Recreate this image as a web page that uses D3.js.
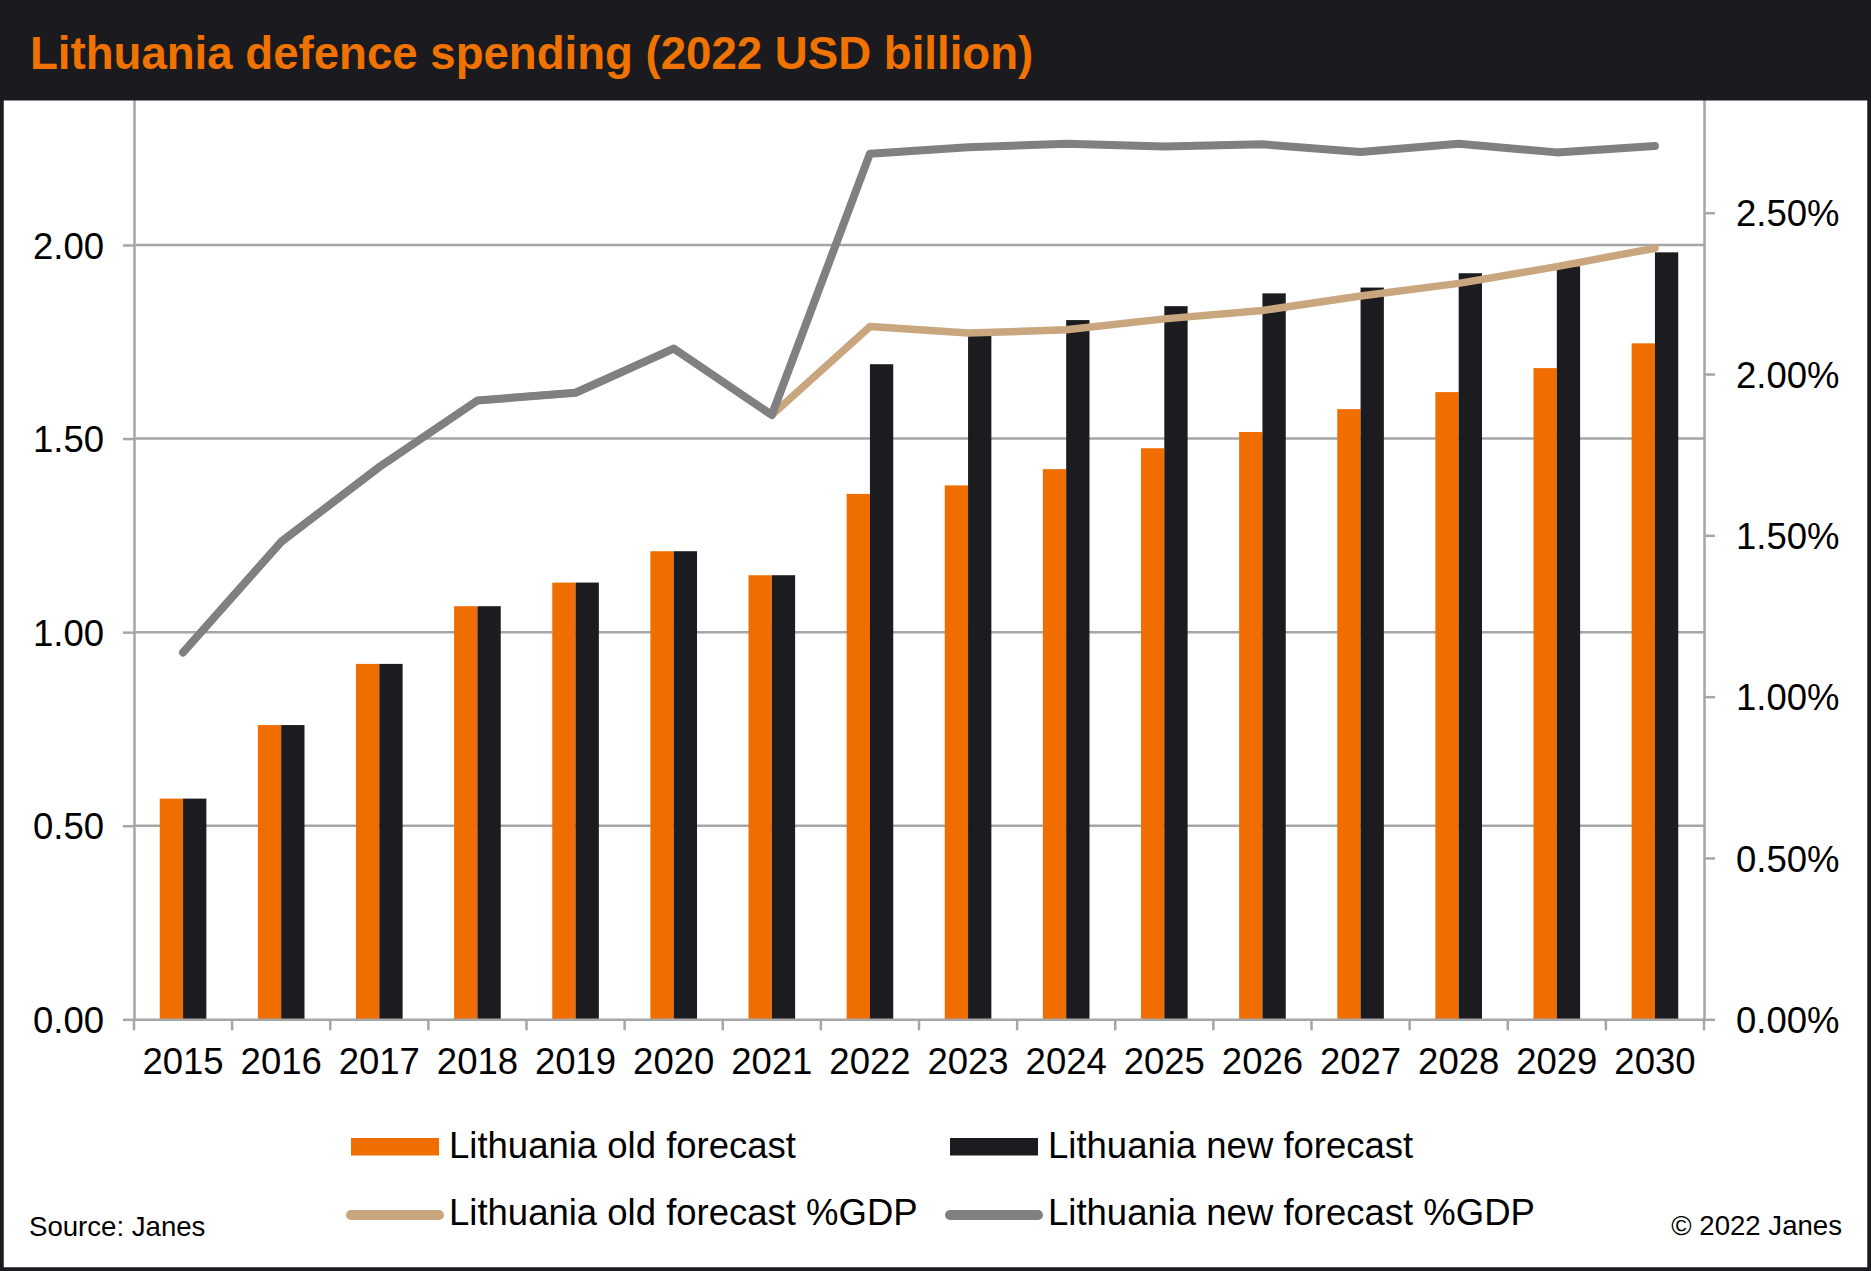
<!DOCTYPE html>
<html>
<head>
<meta charset="utf-8">
<script src="https://cdn.jsdelivr.net/npm/d3@7"></script>
<style>
  html, body { margin: 0; padding: 0; background: #ffffff; }
  svg { display: block; }
  text { font-family: "Liberation Sans", Arial, Helvetica, sans-serif; }
</style>
</head>
<body>
<svg id="chart" width="1871" height="1271"></svg>
<script>
// ---------- data ----------
const years = ["2015","2016","2017","2018","2019","2020","2021","2022","2023","2024","2025","2026","2027","2028","2029","2030"];
const oldSpend = [0.570, 0.760, 0.918, 1.067, 1.128, 1.209, 1.147, 1.357, 1.379, 1.421, 1.475, 1.517, 1.576, 1.620, 1.682, 1.746];
const newSpend = [0.570, 0.760, 0.918, 1.067, 1.128, 1.209, 1.147, 1.692, 1.770, 1.806, 1.842, 1.875, 1.890, 1.927, 1.945, 1.981];
const oldPct   = [1.137, 1.480, 1.712, 1.918, 1.942, 2.079, 1.873, 2.147, 2.127, 2.137, 2.171, 2.197, 2.242, 2.281, 2.333, 2.390];
const newPct   = [1.137, 1.480, 1.712, 1.918, 1.942, 2.079, 1.873, 2.683, 2.703, 2.714, 2.705, 2.712, 2.688, 2.714, 2.687, 2.707];
const leftTicks  = [0, 0.5, 1.0, 1.5, 2.0];
const rightTicks = [0, 0.5, 1.0, 1.5, 2.0, 2.5];
const seriesNames = ["Lithuania old forecast", "Lithuania new forecast", "Lithuania old forecast %GDP", "Lithuania new forecast %GDP"];
const titleText = "Lithuania defence spending (2022 USD billion)";
const sourceText = "Source: Janes";
const copyText = "\u00A9 2022 Janes";

// ---------- styles ----------
const C = {
  orange: "#f06e00",
  black: "#1c1b20",
  gray: "#808080",
  tan: "#c9a67e",
  grid: "#a6a6a6",
  dark: "#1b1a1f",
  titleOrange: "#f07300"
};

const W = 1871, H = 1271;
const plot = { left: 134, right: 1704, top: 51.4, bottom: 1019.3 };

const svg = d3.select("#chart");
svg.append("rect").attr("width", W).attr("height", H).attr("fill", "#fff");

const x = d3.scaleBand().domain(years).range([plot.left, plot.right]).paddingInner(0).paddingOuter(0);
const barW = x.bandwidth() * 0.2375;
const xs = d3.scaleBand().domain(["old","new"]).range([-barW, barW]);
const yL = d3.scaleLinear().domain([0, 2.5]).range([plot.bottom, plot.top]);
const yR = d3.scaleLinear().domain([0, 3.0]).range([plot.bottom, plot.top]);

// gridlines
svg.append("g").selectAll("line").data(leftTicks.filter(d => d > 0)).join("line")
  .attr("x1", plot.left).attr("x2", plot.right)
  .attr("y1", d => yL(d)).attr("y2", d => yL(d))
  .attr("stroke", C.grid).attr("stroke-width", 2.5);

// bars
const rows = years.map((yr, i) => ({ yr, old: oldSpend[i], new: newSpend[i] }));
const gBars = svg.append("g");
["old","new"].forEach(k => {
  gBars.selectAll("rect." + k).data(rows).join("rect")
    .attr("class", k)
    .attr("x", d => x(d.yr) + x.bandwidth() / 2 + xs(k))
    .attr("width", xs.bandwidth())
    .attr("y", d => yL(d[k]))
    .attr("height", d => yL(0) - yL(d[k]))
    .attr("fill", k === "old" ? C.orange : C.black);
});

// axes
function styleAxis(g) {
  g.selectAll(".domain").attr("stroke", C.grid).attr("stroke-width", 2.5);
  g.selectAll(".tick line").attr("stroke", C.grid).attr("stroke-width", 2.5);
  g.selectAll(".tick text").attr("fill", "#000").style("font-size", "36.5px")
    .style("font-family", '"Liberation Sans", Arial, Helvetica, sans-serif');
}

const axL = d3.axisLeft(yL).tickValues(leftTicks).tickFormat(d3.format(".2f")).tickSize(11).tickPadding(19).tickSizeOuter(0);
svg.append("g").attr("transform", `translate(${plot.left},0)`).call(axL).call(styleAxis)
  .selectAll(".tick text").attr("dy", "0.36em");

const axR = d3.axisRight(yR).tickValues(rightTicks).tickFormat(d => d.toFixed(2) + "%").tickSize(11).tickPadding(21).tickSizeOuter(0);
svg.append("g").attr("transform", `translate(${plot.right},0)`).call(axR).call(styleAxis)
  .selectAll(".tick text").attr("dy", "0.36em");

// bottom axis: line, boundary ticks, labels
const axB = d3.axisBottom(x).tickSize(0).tickPadding(0).tickSizeOuter(0);
const gB = svg.append("g").attr("transform", `translate(0,${plot.bottom})`).call(axB).call(styleAxis);
gB.selectAll(".tick text").attr("dy", null).attr("y", 55);
const bounds = years.map(d => x(d)).concat([plot.right]);
gB.selectAll("line.bt").data(bounds).join("line").attr("class", "bt")
  .attr("x1", d => d).attr("x2", d => d).attr("y1", 0).attr("y2", 11)
  .attr("stroke", C.grid).attr("stroke-width", 2.5);

// lines
const cx = yr => x(yr) + x.bandwidth() / 2;
const lineGen = d3.line().x(d => cx(d.yr)).y(d => yR(d.v));
const oldLine = years.map((yr, i) => ({ yr, v: oldPct[i] }));
const newLine = years.map((yr, i) => ({ yr, v: newPct[i] }));
svg.append("path").datum(oldLine).attr("d", lineGen)
  .attr("fill", "none").attr("stroke", C.tan).attr("stroke-width", 7.5)
  .attr("stroke-linejoin", "round").attr("stroke-linecap", "round");
svg.append("path").datum(newLine).attr("d", lineGen)
  .attr("fill", "none").attr("stroke", C.gray).attr("stroke-width", 8)
  .attr("stroke-linejoin", "round").attr("stroke-linecap", "round");

// title bar
svg.append("rect").attr("x", 0).attr("y", 0).attr("width", W).attr("height", 100.5).attr("fill", C.dark);
svg.append("text").attr("x", 30).attr("y", 69).text(titleText)
  .attr("fill", C.titleOrange).style("font-size", "45.6px").style("font-weight", "bold");

// legend
const leg = svg.append("g");
const legItems = [
  { name: seriesNames[0], type: "rect", color: C.orange, x: 351, y: 1147 },
  { name: seriesNames[1], type: "rect", color: C.black,  x: 950, y: 1147 },
  { name: seriesNames[2], type: "line", color: C.tan,    x: 351, y: 1215 },
  { name: seriesNames[3], type: "line", color: C.gray,   x: 950, y: 1215 }
];
legItems.forEach(it => {
  if (it.type === "rect") {
    leg.append("rect").attr("x", it.x).attr("y", it.y - 9).attr("width", 88).attr("height", 17.5).attr("fill", it.color);
  } else {
    leg.append("line").attr("x1", it.x).attr("x2", it.x + 88).attr("y1", it.y).attr("y2", it.y)
      .attr("stroke", it.color).attr("stroke-width", 10).attr("stroke-linecap", "round");
  }
  leg.append("text").attr("x", it.x + 98).attr("y", it.y + (it.type === "rect" ? 11 : 10))
    .text(it.name).attr("fill", "#000").style("font-size", "36.5px");
});

// footer
svg.append("text").attr("x", 29).attr("y", 1236).text(sourceText).style("font-size", "27.6px").attr("fill", "#000");
svg.append("text").attr("x", 1842).attr("y", 1235).attr("text-anchor", "end").text(copyText).style("font-size", "27.6px").attr("fill", "#000");

// frame
svg.append("rect").attr("x", 0).attr("y", 0).attr("width", W).attr("height", H)
  .attr("fill", "none").attr("stroke", C.dark).attr("stroke-width", 7.5);
</script>
</body>
</html>
